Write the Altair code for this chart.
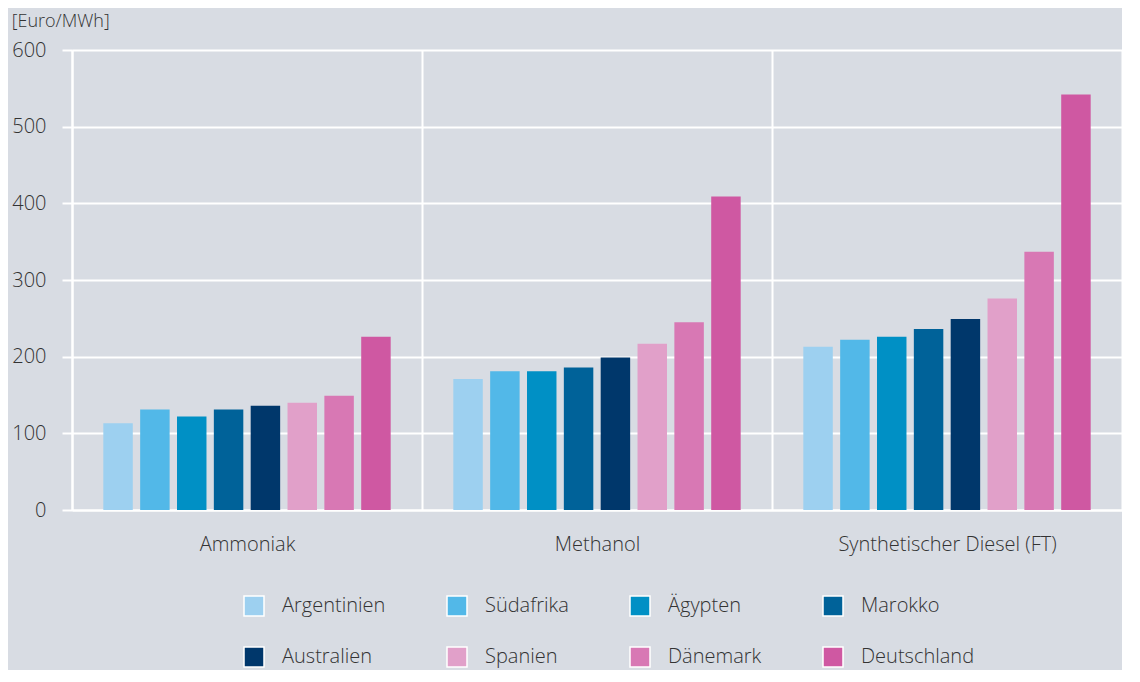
import altair as alt
import pandas as pd

products = ["Ammoniak", "Methanol", "Synthetischer Diesel (FT)"]
countries = ["Argentinien", "Südafrika", "Ägypten", "Marokko",
             "Australien", "Spanien", "Dänemark", "Deutschland"]
colors = ["#9dd0f0", "#52b8e8", "#0090c5", "#006299",
          "#00376b", "#e1a0c9", "#d878b4", "#cf58a2"]

ammoniak = [113, 131, 122, 131, 136, 140, 149, 226]
methanol = [171, 181, 181, 186, 199, 217, 245, 409]
diesel = [213, 222, 226, 236, 249, 276, 337, 542]

y_ticks = [0, 100, 200, 300, 400, 500, 600]

rows = []
for prod, vals in zip(products, [ammoniak, methanol, diesel]):
    for c, v in zip(countries, vals):
        rows.append({"Produkt": prod, "Land": c, "Wert": v})
df = pd.DataFrame(rows)

FONT = "Open Sans"
TXT = "#333333"
BG = "#d8dce3"
FS = 20

chart = alt.Chart(df).mark_bar().encode(
    x=alt.X("Produkt:N", sort=products,
            scale=alt.Scale(paddingInner=0, paddingOuter=0),
            axis=alt.Axis(title=None, labelAngle=0, labelFontSize=FS,
                          labelColor=TXT, labelFont=FONT, labelFontWeight=300,
                          labelLimit=500,
                          ticks=False, tickSize=0, tickBand="extent",
                          grid=True, gridColor="white", gridWidth=2,
                          domain=True, domainColor="white", domainWidth=2,
                          labelPadding=24)),
    xOffset=alt.XOffset("Land:N", sort=countries,
                        scale=alt.Scale(paddingInner=0.2, paddingOuter=0.85)),
    y=alt.Y("Wert:Q", scale=alt.Scale(domain=[0, 600], nice=False),
            axis=alt.Axis(title=None, values=y_ticks, labelFontSize=FS,
                          labelColor=TXT, labelFont=FONT, labelFontWeight=300,
                          labelPadding=16, tickSize=10, tickColor="white",
                          tickWidth=2, domainColor="white", domainWidth=2,
                          gridColor="white", gridWidth=2)),
    color=alt.Color("Land:N", sort=countries,
                    scale=alt.Scale(domain=countries, range=colors),
                    legend=alt.Legend(title=None, orient="none",
                                      legendX=171, legendY=545,
                                      direction="horizontal", columns=4,
                                      symbolType="square", symbolSize=400,
                                      symbolStrokeColor="white",
                                      symbolStrokeWidth=1.5,
                                      symbolOpacity=1,
                                      labelOffset=17, labelFontSize=FS,
                                      labelFont=FONT, labelFontWeight=300,
                                      labelColor=TXT, columnPadding=58,
                                      rowPadding=25, gridAlign="each",
                                      labelLimit=300)),
).properties(
    width=1050,
    height=460,
    background=BG,
    title=alt.TitleParams("[Euro/MWh]", anchor="start", frame="bounds",
                          fontSize=18, fontWeight=300, font=FONT,
                          color=TXT, offset=9),
).configure_view(stroke=None).configure(
    padding={"top": 5, "left": 3, "right": 0, "bottom": 0})

chart.save("out.html", embed_options={"renderer": "svg", "actions": False})
